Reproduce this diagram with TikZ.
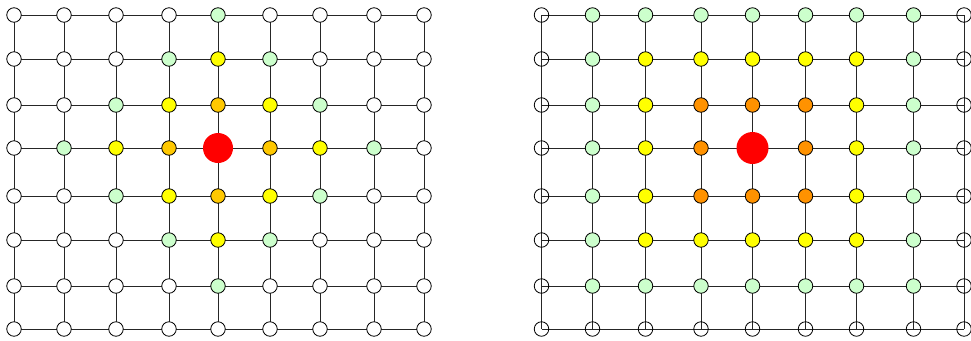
\documentclass[tikz,border=0pt]{standalone}
\usetikzlibrary{backgrounds}
\definecolor{lgreen}{HTML}{CCFFCC}
\definecolor{lyellow}{HTML}{FFFF00}
\definecolor{lorange}{HTML}{FFC800}
\definecolor{rorange}{HTML}{FF9200}
\definecolor{bigred}{HTML}{FF0000}
\begin{document}
\begin{tikzpicture}[x=1bp,y=-1bp,
  gridline/.style={draw=black!85,line width=0.8bp},
  small/.style={circle,draw=black,line width=0.8bp,minimum size=14.5bp,inner sep=0pt},
  Lc0/.style={circle,fill=bigred,minimum size=30bp,inner sep=0pt},
  Lc1/.style={small,fill=lorange},
  Lc2/.style={small,fill=lyellow},
  Lc3/.style={small,fill=lgreen},
  Lc4/.style={small,fill=white},
  Rc0/.style={circle,fill=bigred,minimum size=32bp,inner sep=0pt},
  Rc1/.style={small,fill=rorange},
  Rc2/.style={small,fill=lyellow},
  Rc3/.style={small,fill=lgreen},
  Rc4/.style={small}]
\useasboundingbox (0,0) rectangle (971,340);
% left grid (Manhattan distance)
\foreach \x [count=\i from 0] in {14,64,116,169,218,270,320,374,424}{
  \foreach \y [count=\j from 0] in {15,59,105,148,196,240,286,329}{
    \pgfmathtruncatemacro\d{min(abs(\i-4)+abs(\j-3),4)}
    \node[Lc\d] (L-\i-\j) at (\x,\y) {};
  }
}
% right grid (Chebyshev distance)
\foreach \x [count=\i from 0] in {541.5,592.5,645.5,701,752.5,805.5,856.5,913.5,964}{
  \foreach \y [count=\j from 0] in {15,59,105,148,196,240,286,329}{
    \pgfmathtruncatemacro\d{min(max(abs(\i-4),abs(\j-3)),4)}
    \node[Rc\d] (R-\i-\j) at (\x,\y) {};
  }
}
\begin{scope}[on background layer]
\foreach \g in {L,R}{
  \foreach \i in {0,...,7}{
    \pgfmathtruncatemacro\ni{\i+1}
    \foreach \j in {0,...,7}{
      \draw[gridline] (\g-\i-\j.center) -- (\g-\ni-\j.center);
    }
  }
  \foreach \i in {0,...,8}{
    \foreach \j in {0,...,6}{
      \pgfmathtruncatemacro\nj{\j+1}
      \draw[gridline] (\g-\i-\j.center) -- (\g-\i-\nj.center);
    }
  }
}
\end{scope}
\end{tikzpicture}
\end{document}
